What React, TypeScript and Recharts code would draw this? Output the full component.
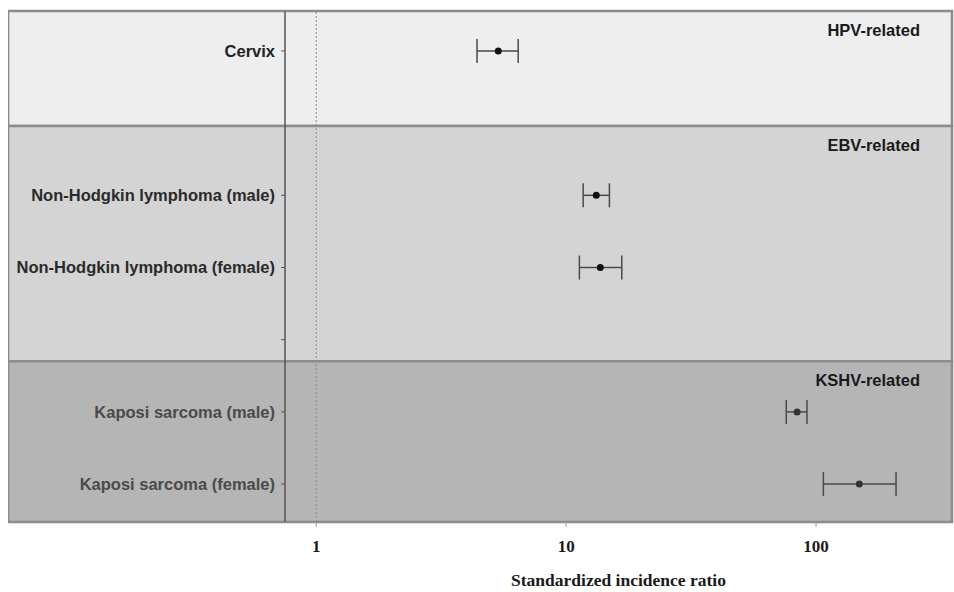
import React from 'react';
import {
  ScatterChart,
  Scatter,
  XAxis,
  YAxis,
  ErrorBar,
  ReferenceArea,
  ReferenceLine,
  Label,
} from 'recharts';

// ---- data ----
const categories = [
  'Cervix',
  'Non-Hodgkin lymphoma (male)',
  'Non-Hodgkin lymphoma (female)',
  'Kaposi sarcoma (male)',
  'Kaposi sarcoma (female)',
];
const rowPositions = [0, 2, 3, 5, 6];
const sirValues = [5.35, 13.2, 13.7, 84, 149];
const lowerCI = [4.4, 11.7, 11.3, 76, 107];
const upperCI = [6.43, 14.9, 16.7, 92, 209];
const labelColors = ['#222222', '#2a2a2a', '#2a2a2a', '#4a4a4a', '#4a4a4a'];

const panelNames = ['HPV-related', 'EBV-related', 'KSHV-related'];
const panelStart = [-0.553, 1.04, 4.3];
const panelEnd = [1.04, 4.3, 6.525];
const panelFills = ['#eeeeee', '#d4d4d4', '#b5b5b5'];

const xTicks = [1, 10, 100];
const yTicks = [0, 2, 3, 4, 5, 6];
const xDomain: [number, number] = [0.75, 350];
const yDomain: [number, number] = [-0.553, 6.525];
const panelLeftValue = 0.0585;

const data = categories.map((name, i) => ({
  name,
  row: rowPositions[i],
  sir: sirValues[i],
  err: [sirValues[i] - lowerCI[i], upperCI[i] - sirValues[i]],
  color: i >= 3 ? '#333333' : '#111111',
}));

const labelByRow: Record<number, { text: string; color: string }> = {};
rowPositions.forEach((r, i) => {
  labelByRow[r] = { text: categories[i], color: labelColors[i] };
});

const SANS = "'Liberation Sans', Arial, sans-serif";
const SERIF = "'Liberation Serif', 'Times New Roman', serif";

const YTick = (props: any) => {
  const { x, y, payload } = props;
  const item = labelByRow[payload.value];
  if (!item) return null;
  return (
    <text
      x={x}
      y={y}
      dy="0.35em"
      textAnchor="end"
      fill={item.color}
      fontFamily={SANS}
      fontWeight="bold"
      fontSize={16.5}
    >
      {item.text}
    </text>
  );
};

const PanelLabel = (props: any) => {
  const { viewBox, text } = props;
  if (!viewBox) return null;
  const { x, y, width } = viewBox;
  return (
    <text
      x={x + width - 32}
      y={y + 19}
      dy="0.35em"
      textAnchor="end"
      fill="#1a1a1a"
      fontFamily={SANS}
      fontWeight="bold"
      fontSize={16.5}
    >
      {text}
    </text>
  );
};

const Dot = (props: any) => {
  const { cx, cy, payload } = props;
  return <circle cx={cx} cy={cy} r={3.5} fill={payload.color} />;
};

export default function App() {
  return (
    <div style={{ position: 'absolute', left: 8, top: 8, width: 946, height: 584 }}>
      <ScatterChart
        width={946}
        height={584}
        margin={{ top: 3, right: 2, bottom: 0, left: 0 }}
      >
        {panelNames.map((name, i) => (
          <ReferenceArea
            key={name}
            x1={panelLeftValue}
            x2={xDomain[1]}
            y1={panelStart[i]}
            y2={panelEnd[i]}
            ifOverflow="visible"
            fill={panelFills[i]}
            fillOpacity={1}
            stroke="#8c8c8c"
            strokeWidth={2.5}
          >
            <Label content={(p: any) => <PanelLabel {...p} text={name} />} />
          </ReferenceArea>
        ))}
        <ReferenceLine
          x={1}
          stroke="#8a8a8a"
          strokeDasharray="2 2"
          strokeWidth={1}
        />
        <XAxis
          type="number"
          dataKey="sir"
          scale="log"
          domain={xDomain}
          allowDataOverflow
          ticks={xTicks}
          axisLine={false}
          tickLine={{ stroke: '#999999' }}
          tickSize={5}
          tickMargin={13}
          height={70}
          tick={{
            fill: '#1a1a1a',
            fontFamily: SERIF,
            fontWeight: 'bold',
            fontSize: 17,
          }}
        >
          <Label
            value="Standardized incidence ratio"
            position="insideBottom"
            offset={6}
            style={{
              fill: '#1a1a1a',
              fontFamily: SERIF,
              fontWeight: 'bold',
              fontSize: 17.5,
            }}
          />
        </XAxis>
        <YAxis
          type="number"
          dataKey="row"
          domain={yDomain}
          allowDataOverflow
          reversed
          ticks={yTicks}
          width={277}
          axisLine={{ stroke: '#555555', strokeWidth: 1.5 }}
          tickLine={{ stroke: '#555555' }}
          tickSize={4}
          tickMargin={6}
          tick={<YTick />}
        />
        <Scatter data={data} isAnimationActive={false} shape={<Dot />}>
          <ErrorBar
            dataKey="err"
            direction="x"
            width={12}
            stroke="#4a4a4a"
            strokeWidth={1.5}
          />
        </Scatter>
      </ScatterChart>
    </div>
  );
}
